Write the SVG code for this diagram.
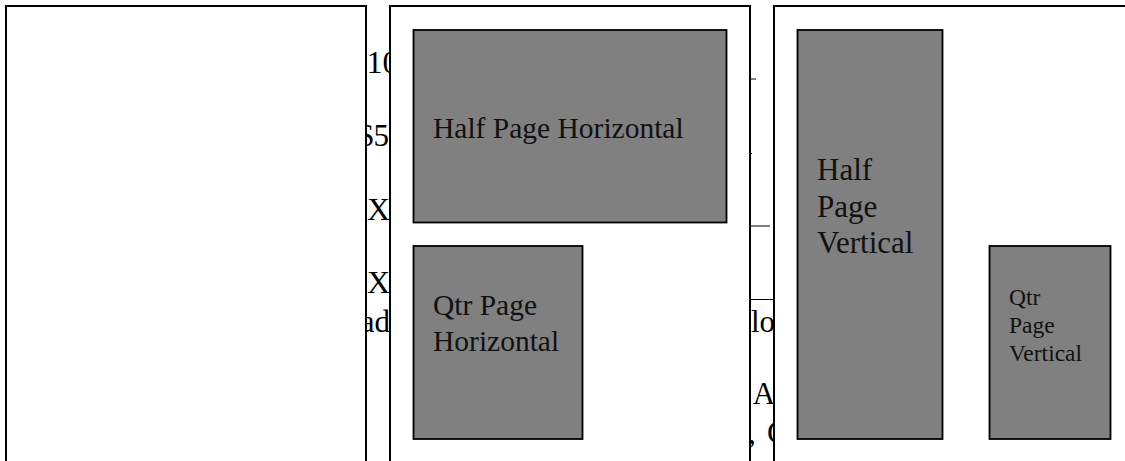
<svg xmlns="http://www.w3.org/2000/svg" width="1125" height="461" viewBox="0 0 1125 461">
<style>
.frag{font-family:"Liberation Serif","Times New Roman",serif;fill:#000}
.panel{fill:#fff;stroke:#000;stroke-width:2}
.box{fill:#808080;stroke:#000;stroke-width:1.8}
.lbl{font-family:"Liberation Serif","Times New Roman",serif;fill:#111}
.rule{stroke:#000;stroke-width:1;fill:none}
</style>
<rect x="0" y="0" width="1125" height="461" fill="#fff"/>
<g id="background">
<text class="frag" x="366.5" y="73" font-size="32">10</text>
<text class="frag" x="389" y="145.5" font-size="31" text-anchor="end">$5</text>
<text class="frag" x="367" y="220" font-size="32">X</text>
<text class="frag" x="367" y="293" font-size="32">X</text>
<text class="frag" x="390" y="331.5" font-size="31" text-anchor="end">ad</text>
<text class="frag" x="751" y="332" font-size="31">lo</text>
<text class="frag" x="742.5" y="404" font-size="31">’A</text>
<text class="frag" x="748" y="443" font-size="31">,<tspan x="767">C</tspan></text>
</g>
<g id="connectors">
<line class="rule" x1="740" y1="79" x2="756" y2="79"/>
<line class="rule" x1="740" y1="153.5" x2="752" y2="153.5"/>
<line class="rule" x1="740" y1="226" x2="770" y2="226"/>
<line class="rule" x1="740" y1="299.5" x2="780" y2="299.5"/>
</g>
<g id="panel-1"><rect class="panel" x="6" y="6" width="360" height="470"/></g>
<g id="panel-2"><rect class="panel" x="390" y="6" width="360" height="470"/></g>
<g id="panel-3"><rect class="panel" x="774" y="6" width="360" height="470"/></g>
<g id="half-page-horizontal">
<rect class="box" x="413.5" y="30" width="313" height="192.5"/>
<text class="lbl" x="433" y="138" font-size="29.5">Half Page Horizontal</text>
</g>
<g id="qtr-page-horizontal">
<rect class="box" x="413.5" y="246" width="169" height="193"/>
<text class="lbl" x="433" y="315" font-size="29.5">Qtr Page<tspan x="433" y="350.5">Horizontal</tspan></text>
</g>
<g id="half-page-vertical">
<rect class="box" x="797.5" y="30" width="145" height="409"/>
<text class="lbl" x="817" y="180" font-size="31">Half<tspan x="817" y="216.7">Page</tspan><tspan x="817" y="253.3">Vertical</tspan></text>
</g>
<g id="qtr-page-vertical">
<rect class="box" x="989.5" y="246" width="121" height="193"/>
<text class="lbl" x="1009" y="305" font-size="23.5">Qtr<tspan x="1009" y="333">Page</tspan><tspan x="1009" y="360.7">Vertical</tspan></text>
</g>
</svg>
